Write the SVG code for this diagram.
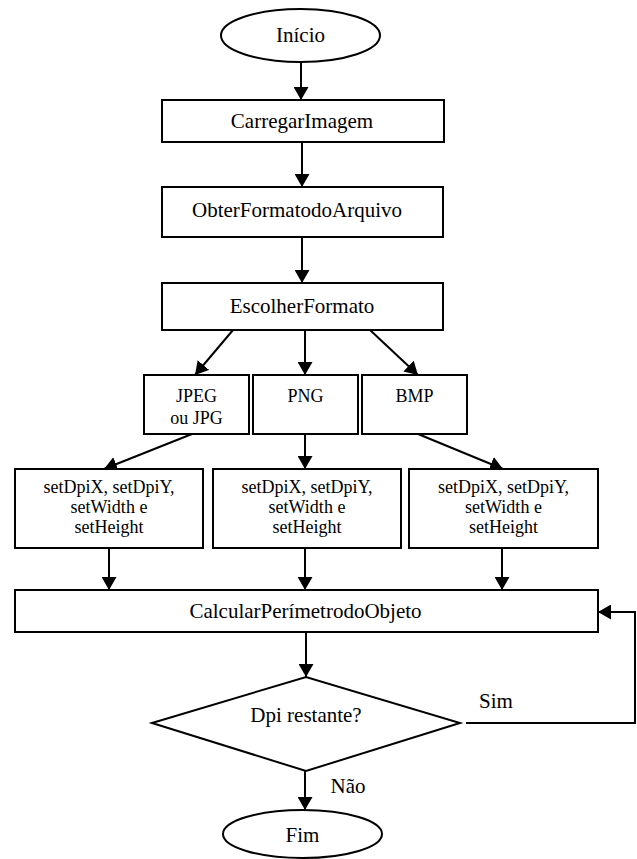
<svg xmlns="http://www.w3.org/2000/svg" width="637" height="859" viewBox="0 0 637 859">
<style>
.shape{fill:#fff;stroke:#000;stroke-width:2}
.t{font-family:'Liberation Serif','DejaVu Serif','Times New Roman',serif;font-size:21px;fill:#000;text-anchor:middle}
.s{font-family:'Liberation Serif','DejaVu Serif','Times New Roman',serif;font-size:18px;fill:#000;text-anchor:middle}
.c{fill:none;stroke:#000;stroke-width:2}
</style>
<defs>
<marker id="ah" viewBox="0 0 13 15" refX="13" refY="7.5" markerWidth="13" markerHeight="15" markerUnits="userSpaceOnUse" orient="auto">
<path d="M0,0 L13,7.5 L0,15 Z" fill="#000"/>
</marker>
</defs>
<rect width="637" height="859" fill="#fff"/>
<g id="connectors">
<line class="c" x1="301" y1="62" x2="301" y2="100" marker-end="url(#ah)"/>
<line class="c" x1="302" y1="142" x2="302" y2="187" marker-end="url(#ah)"/>
<line class="c" x1="302" y1="237" x2="302" y2="283" marker-end="url(#ah)"/>
<line class="c" x1="233" y1="330" x2="195" y2="375" marker-end="url(#ah)"/>
<line class="c" x1="305" y1="330" x2="305" y2="375" marker-end="url(#ah)"/>
<line class="c" x1="370" y1="330" x2="418" y2="375" marker-end="url(#ah)"/>
<line class="c" x1="192" y1="434" x2="104" y2="469" marker-end="url(#ah)"/>
<line class="c" x1="305" y1="434" x2="305" y2="469" marker-end="url(#ah)"/>
<line class="c" x1="418" y1="434" x2="503" y2="469" marker-end="url(#ah)"/>
<line class="c" x1="109" y1="548" x2="109" y2="590" marker-end="url(#ah)"/>
<line class="c" x1="305" y1="548" x2="305" y2="590" marker-end="url(#ah)"/>
<line class="c" x1="502" y1="548" x2="502" y2="590" marker-end="url(#ah)"/>
<line class="c" x1="306" y1="632" x2="306" y2="677" marker-end="url(#ah)"/>
<line class="c" x1="305" y1="771" x2="305" y2="810" marker-end="url(#ah)"/>
<polyline class="c" points="466,723 635,723 635,612 598,612" marker-end="url(#ah)"/>
<text class="t" x="496" y="708">Sim</text>
<text class="t" x="348" y="793">Não</text>
</g>
<g id="inicio">
<ellipse class="shape" cx="300.5" cy="35.5" rx="79.5" ry="26.5"/>
<text class="t" x="300.5" y="42">Início</text>
</g>
<g id="carregar">
<rect class="shape" x="162" y="100" width="282" height="42"/>
<text class="t" x="302" y="128">CarregarImagem</text>
</g>
<g id="obter">
<rect class="shape" x="162" y="187" width="281" height="50"/>
<text class="t" x="297" y="217">ObterFormatodoArquivo</text>
</g>
<g id="escolher">
<rect class="shape" x="162" y="283" width="281" height="47"/>
<text class="t" x="302" y="313">EscolherFormato</text>
</g>
<g id="jpeg">
<rect class="shape" x="144" y="375" width="105" height="59"/>
<text class="s" x="196.5" y="402">JPEG</text>
<text class="s" x="196.5" y="424">ou JPG</text>
</g>
<g id="png">
<rect class="shape" x="253" y="375" width="105" height="59"/>
<text class="s" x="305.5" y="402">PNG</text>
</g>
<g id="bmp">
<rect class="shape" x="362" y="375" width="105" height="59"/>
<text class="s" x="414.5" y="402">BMP</text>
</g>
<g id="set1">
<rect class="shape" x="15" y="469" width="188" height="79"/>
<text class="s" x="109" y="493">setDpiX, setDpiY,</text>
<text class="s" x="109" y="513">setWidth e</text>
<text class="s" x="109" y="533">setHeight</text>
</g>
<g id="set2">
<rect class="shape" x="213" y="469" width="188" height="79"/>
<text class="s" x="307" y="493">setDpiX, setDpiY,</text>
<text class="s" x="307" y="513">setWidth e</text>
<text class="s" x="307" y="533">setHeight</text>
</g>
<g id="set3">
<rect class="shape" x="409" y="469" width="189" height="79"/>
<text class="s" x="503.5" y="493">setDpiX, setDpiY,</text>
<text class="s" x="503.5" y="513">setWidth e</text>
<text class="s" x="503.5" y="533">setHeight</text>
</g>
<g id="calcular">
<rect class="shape" x="15" y="590" width="583" height="42"/>
<text class="t" x="305.5" y="618">CalcularPerímetrodoObjeto</text>
</g>
<g id="decisao">
<polygon class="shape" points="152,723 306,677 460,723 306,771"/>
<text class="t" x="306" y="722">Dpi restante?</text>
</g>
<g id="fim">
<ellipse class="shape" cx="302.5" cy="834" rx="79.5" ry="24"/>
<text class="t" x="302.5" y="842">Fim</text>
</g>
</svg>
